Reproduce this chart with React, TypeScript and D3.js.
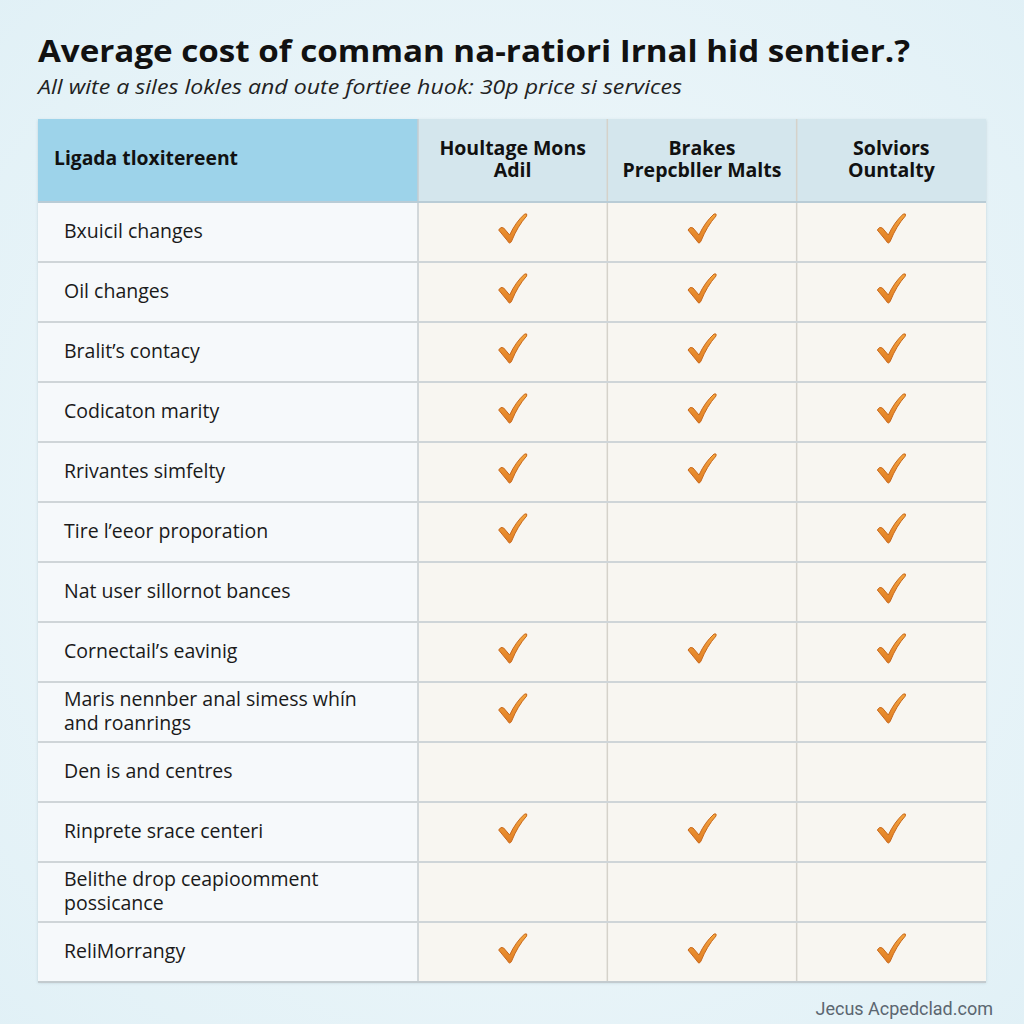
import React from "react";
import * as d3 from "d3";

const title = "Average cost of comman na-ratiori Irnal hid sentier.?";
const subtitle = "All wite a siles lokles and oute fortiee huok:  30p price si services";
const firstHeader = "Ligada tloxitereent";
const seriesNames: string[][] = [
  ["Houltage Mons", "Adil"],
  ["Brakes", "Prepcbller Malts"],
  ["Solviors", "Ountalty"],
];
const categories: string[][] = [
  ["Bxuicil changes"],
  ["Oil changes"],
  ["Bralit\u2019s contacy"],
  ["Codicaton marity"],
  ["Rrivantes simfelty"],
  ["Tire l\u2019eeor proporation"],
  ["Nat user sillornot bances"],
  ["Cornectail\u2019s eavinig"],
  ["Maris nennber anal simess wh\u00edn", "and roanrings"],
  ["Den is and centres"],
  ["Rinprete srace centeri"],
  ["Belithe drop ceapioomment", "possicance"],
  ["ReliMorrangy"],
];
const seriesA = [1, 1, 1, 1, 1, 1, 0, 1, 1, 0, 1, 0, 1];
const seriesB = [1, 1, 1, 1, 1, 0, 0, 1, 0, 0, 1, 0, 1];
const seriesC = [1, 1, 1, 1, 1, 1, 1, 1, 1, 0, 1, 0, 1];
const footer = "Jecus Acpedclad.com";

const W = 1024;
const H = 1024;
const tableL = 38;
const tableR = 986;
const firstColR = 418;
const headTop = 119;
const headBot = 202;
const tableBot = 982;

export default function App() {
  const series = [seriesA, seriesB, seriesC];
  const x = d3.scaleBand<number>().domain([0, 1, 2]).range([firstColR, tableR]).padding(0);
  const y = d3
    .scaleBand<number>()
    .domain(categories.map((_, i) => i))
    .range([headBot, tableBot])
    .padding(0);
  const font = "'Open Sans', 'Noto Sans', sans-serif";
  const p = d3.path();
  p.moveTo(-14, 0);
  p.quadraticCurveTo(-12, -4, -9, -2);
  p.lineTo(-3, 5);
  p.quadraticCurveTo(3, -8, 12, -16);
  p.quadraticCurveTo(15, -17, 14, -14);
  p.quadraticCurveTo(5, -4, -1, 11);
  p.quadraticCurveTo(-3, 15, -5, 11);
  p.closePath();
  const check = p.toString();

  return (
    <svg
      width={W}
      height={H}
      viewBox={`0 0 ${W} ${H}`}
      style={{ position: "absolute", left: 0, top: 0, display: "block" }}
    >
      <defs>
        <radialGradient id="bg" cx="0.5" cy="0.5" r="0.75">
          <stop offset="0" stopColor="#f3f9fb" />
          <stop offset="1" stopColor="#e0f0f6" />
        </radialGradient>
        <linearGradient id="ck" x1="0" y1="0" x2="0" y2="1">
          <stop offset="0" stopColor="#f4a640" />
          <stop offset="1" stopColor="#e07c22" />
        </linearGradient>
        <filter id="sh" x="-5%" y="-5%" width="110%" height="110%">
          <feDropShadow dx="0" dy="1" stdDeviation="1.5" floodColor="#8aa4b0" floodOpacity="0.4" />
        </filter>
      </defs>
      <rect x={0} y={0} width={W} height={H} fill="url(#bg)" />

      <text
        x={38}
        y={62}
        fontFamily={font}
        fontWeight={700}
        fontSize={31}
        fill="#111"
        textLength={872}
        lengthAdjust="spacingAndGlyphs"
      >
        {title}
      </text>
      <text
        x={38}
        y={94}
        fontFamily={font}
        fontStyle="italic"
        fontSize={20}
        fill="#222"
        textLength={644}
        lengthAdjust="spacingAndGlyphs"
      >
        {subtitle}
      </text>

      <g filter="url(#sh)">
        <rect x={tableL} y={headTop} width={tableR - tableL} height={tableBot - headTop} fill="#f7fafb" />
      </g>
      {/* header */}
      <rect x={tableL} y={headTop} width={firstColR - tableL} height={headBot - headTop} fill="#9dd3ea" />
      <rect x={firstColR} y={headTop} width={tableR - firstColR} height={headBot - headTop} fill="#d4e6ed" />
      <text
        x={54}
        y={165}
        fontFamily={font}
        fontWeight={700}
        fontSize={19}
        fill="#111"
        textLength={184}
        lengthAdjust="spacingAndGlyphs"
      >
        {firstHeader}
      </text>
      {seriesNames.map((lines, j) => (
        <text
          key={j}
          x={(x(j) ?? 0) + x.bandwidth() / 2}
          textAnchor="middle"
          fontFamily={font}
          fontWeight={700}
          fontSize={19.5}
          fill="#111"
        >
          {lines.map((l, k) => (
            <tspan key={k} x={(x(j) ?? 0) + x.bandwidth() / 2} y={155 + k * 22}>
              {l}
            </tspan>
          ))}
        </text>
      ))}

      {/* body */}
      <rect x={tableL} y={headBot} width={firstColR - tableL} height={tableBot - headBot} fill="#f6f9fb" />
      <rect x={firstColR} y={headBot} width={tableR - firstColR} height={tableBot - headBot} fill="#f8f6f1" />

      {/* vertical lines */}
      {[0, 1, 2].map((j) => (
        <line
          key={j}
          x1={x(j)}
          x2={x(j)}
          y1={headTop}
          y2={tableBot}
          stroke={j === 0 ? "#c6ccd0" : "#d5d2ca"}
          strokeWidth={1.5}
        />
      ))}
      {/* horizontal lines */}
      {categories.map((_, i) => (
        <line
          key={i}
          x1={tableL}
          x2={tableR}
          y1={y(i)}
          y2={y(i)}
          stroke={i === 0 ? "#b9ccd6" : "#cfd5d8"}
          strokeWidth={2}
        />
      ))}
      <line x1={tableL} x2={tableR} y1={tableBot} y2={tableBot} stroke="#c3cbcf" strokeWidth={2} />

      {categories.map((lines, i) => {
        const cy = (y(i) ?? 0) + y.bandwidth() / 2 + 1;
        const off = ((lines.length - 1) * 24) / 2;
        return (
          <text key={i} fontFamily={font} fontSize={19.5} fill="#1a1a1a" dominantBaseline="middle">
            {lines.map((l, k) => (
              <tspan key={k} x={64} y={cy - off + k * 24}>
                {l}
              </tspan>
            ))}
          </text>
        );
      })}

      {series.map((vals, j) =>
        vals.map((v, i) =>
          v ? (
            <g
              key={`${j}-${i}`}
              transform={`translate(${(x(j) ?? 0) + x.bandwidth() / 2},${(y(i) ?? 0) + y.bandwidth() / 2 - 2})`}
            >
              <path d={check} fill="url(#ck)" stroke="#c8681c" strokeWidth={1} strokeLinejoin="round" />
            </g>
          ) : null
        )
      )}

      <text
        x={993}
        y={1015}
        textAnchor="end"
        fontFamily="Roboto, 'Noto Sans', sans-serif"
        fontSize={18}
        fill="#5b6670"
      >
        {footer}
      </text>
    </svg>
  );
}
